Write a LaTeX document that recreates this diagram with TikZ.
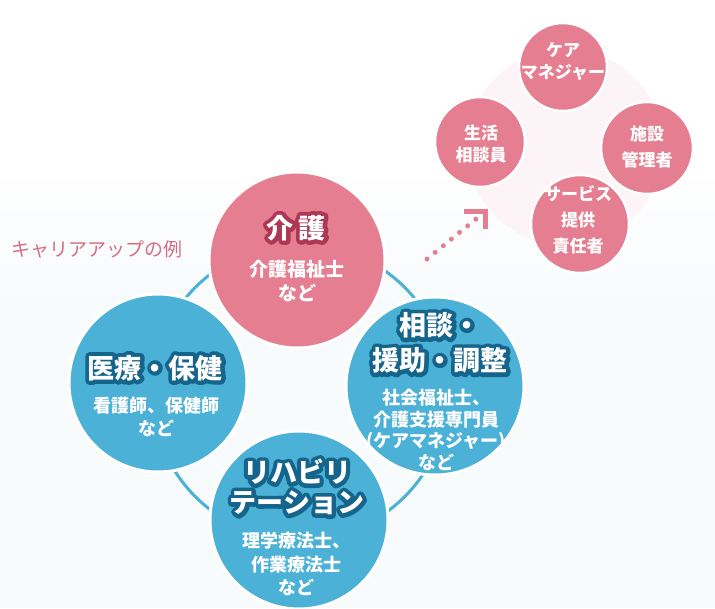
\documentclass[tikz,border=0pt]{standalone}
\usepackage{fontspec}
\newfontfamily\jp{Noto Sans CJK JP}
\newfontfamily\jpout{Noto Sans CJK JP}[BoldFeatures={FakeBold=30}]
\usetikzlibrary{calc}
\newcommand\roundjoin{\special{pdf:literal direct 1 j}}
\definecolor{cpink}{RGB}{229,126,144}
\definecolor{cblue}{RGB}{76,177,214}
\definecolor{cbluedark}{RGB}{20,100,140}
\definecolor{cpinkdark}{RGB}{172,56,86}
\definecolor{clabel}{RGB}{214,108,132}
\definecolor{cpinkbg}{RGB}{253,244,247}
\definecolor{cbg}{RGB}{248,251,252}
\tikzset{
  bigpink/.style={circle,fill=cpink,draw=white,line width=3pt,inner sep=0pt,minimum size=176pt},
  bigblue/.style={circle,fill=cblue,draw=white,line width=3pt,inner sep=0pt,minimum size=178pt},
  smallpink/.style={circle,fill=cpink,draw=white,line width=2.5pt,inner sep=0pt,minimum size=88pt},
  titletext/.style={text=white,font=\jp\bfseries\fontsize{27}{30}\selectfont,inner sep=0pt,align=center},
  titleout/.style={text=cbluedark,font=\jpout\bfseries\fontsize{27}{30}\selectfont,inner sep=0pt,align=center},
  subtext/.style={text=white,font=\jp\bfseries\fontsize{18}{23}\selectfont,inner sep=0pt,align=center},
  clustertext/.style={text=white,font=\jp\bfseries\fontsize{17}{22}\selectfont,inner sep=0pt,align=center},
  lbltext/.style={text=clabel,font=\jp\fontsize{19}{22}\selectfont,inner sep=0pt},
  ringline/.style={draw=cblue,line width=3pt},
  dotline/.style={draw=cpink,line width=5pt,line cap=round,dash pattern=on 0pt off 10.5pt},
  cornerline/.style={draw=cpink,line width=5pt,line cap=butt,line join=miter}
}
\begin{document}
\begin{tikzpicture}[x=1pt,y=-1pt]
\useasboundingbox (0,0) rectangle (715,608);
\fill[white] (0,0) rectangle (715,608);
\shade[top color=white,bottom color=cbg] (0,160) rectangle (715,300);
\fill[cbg] (0,299) rectangle (715,608);
% pink background disk of the cluster
\fill[cpinkbg] (565,147) circle[radius=98pt];
% ring
\draw[ringline] (300,392) circle[radius=148pt];
% big circles
\node[bigpink] (kaigo) at (297,260) {};
\node[bigblue] (iryo) at (158,383) {};
\node[bigblue] (sodan) at (435,386) {};
\node[bigblue] (riha) at (299,520) {};
% titles (outline layer, then white layer)
\node[titleout,text=cpinkdark] (kaigoO) at (296,228) {\roundjoin 介\hspace{5pt}護};
\node[titletext] (kaigoT) at (296,228) {介\hspace{5pt}護};
\node[titleout] (iryoO) at (155,368) {\roundjoin 医療・保健};
\node[titletext] (iryoT) at (155,368) {医療・保健};
\node[titleout,font=\jpout\bfseries\fontsize{27}{35}\selectfont] (sodanO) at (440,343) {\roundjoin 相談・\\\roundjoin 援助・調整};
\node[titletext,font=\jp\bfseries\fontsize{27}{35}\selectfont] (sodanT) at (440,343) {相談・\\援助・調整};
\node[titleout] (rihaO) at (297,487) {\roundjoin リハビリ\\\roundjoin テーション};
\node[titletext] (rihaT) at (297,487) {リハビリ\\テーション};
% sub texts
\node[subtext,font=\jp\bfseries\fontsize{19}{24}\selectfont] (kaigoS) at (297,281) {介護福祉士\\など};
\node[subtext] (iryoS) at (156,417) {看護師、保健師\\など};
\node[subtext,font=\jp\bfseries\fontsize{18}{21.7}\selectfont] (sodanS) at (436,430) {社会福祉士、\\介護支援専門員\\(ケアマネジャー)\\など};
\node[subtext,font=\jp\bfseries\fontsize{18}{23.5}\selectfont] (rihaS) at (296,564) {理学療法士、\\作業療法士\\など};
% label
\node[lbltext,anchor=west] (lbl) at (11,249) {キャリアアップの例};
% cluster
\node[smallpink] (care) at (563,67) {};
\node[smallpink,minimum size=90pt] (seikatsu) at (480,142) {};
\node[smallpink,minimum size=92pt] (shisetsu) at (647,148) {};
\node[smallpink,minimum size=98pt] (service) at (580,224) {};
\node[clustertext] (careT) at (563,61) {ケア\\マネジャー};
\node[clustertext] (seikatsuT) at (481,144) {生活\\相談員};
\node[clustertext,font=\jp\bfseries\fontsize{17}{26}\selectfont] (shisetsuT) at (647,147) {施設\\管理者};
\node[clustertext,font=\jp\bfseries\fontsize{17}{26}\selectfont] (serviceT) at (578,220) {サービス\\提供\\責任者};
% dotted arrow
\coordinate (a0) at (427,259);
\coordinate (a1) at (476,219);
\coordinate (tip) at (485,211);
\draw[dotline] (a0) -- (a1);
\draw[cornerline] ($(tip)+(-21,0)$) -- (tip) -- ($(tip)+(0,18)$);
\end{tikzpicture}
\end{document}
